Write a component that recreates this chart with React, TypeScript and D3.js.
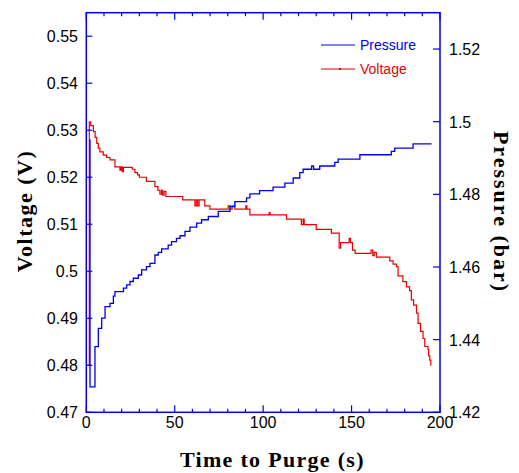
import React from 'react';
import * as d3 from 'd3';

const pressureTime = [1.8, 2.1, 4.9, 6.8, 8.7, 10.6, 13.4, 15.3, 16.2, 21, 22.8, 24.7, 26.6, 29.4, 31.3, 34, 36, 38.8, 40.7, 42.6, 46.3, 48.2, 51, 53, 55.8, 58.6, 62.4, 65.2, 69, 74.6, 81.2, 84, 90.6, 92.5, 98, 105.6, 112.3, 117, 120.7, 122.6, 127.4, 128.5, 132, 140.5, 142.4, 154.7, 172.5, 174.4, 184.8, 195.2];
const pressureValue = [1.495, 1.427, 1.4381, 1.4431, 1.4459, 1.4491, 1.45, 1.452, 1.4532, 1.4542, 1.4551, 1.456, 1.4569, 1.4578, 1.4592, 1.4601, 1.461, 1.4633, 1.464, 1.465, 1.466, 1.467, 1.4679, 1.4686, 1.4698, 1.471, 1.4721, 1.473, 1.4739, 1.4753, 1.4766, 1.478, 1.479, 1.4801, 1.481, 1.482, 1.4831, 1.4845, 1.486, 1.4869, 1.4878, 1.4869, 1.4878, 1.4888, 1.4897, 1.4909, 1.4918, 1.4927, 1.4939, 1.4939];

const voltageTime = [0, 1.7, 2.5, 4, 5, 5.9, 6.8, 7.7, 9.6, 11.5, 13.4, 16.2, 19, 19.7, 20.3, 21, 26, 27.5, 29, 30, 34, 38.8, 40.5, 41.6, 42.5, 43.2, 44, 45, 54.5, 61.4, 62.2, 63, 63.8, 67, 69.9, 80.2, 81.5, 82.5, 84, 90.2, 90.8, 92.5, 103.4, 103.9, 113.2, 121.6, 122.6, 123.2, 130, 138.6, 143, 143.8, 148.6, 149.4, 150.5, 152, 161, 162, 162.8, 164, 171.6, 173.5, 175.4, 176.3, 179, 181, 182.8, 183.8, 185.1, 186.7, 187.6, 189, 190.4, 191.4, 193.2, 193.6, 194.2, 194.8];
const voltageValue = [0.48, 0.5318, 0.531, 0.5297, 0.5285, 0.5272, 0.5262, 0.5254, 0.5247, 0.5242, 0.5237, 0.5222, 0.5215, 0.5222, 0.5212, 0.5221, 0.5217, 0.521, 0.5205, 0.52, 0.5191, 0.518, 0.5172, 0.5164, 0.5172, 0.5162, 0.517, 0.5159, 0.5152, 0.5139, 0.5152, 0.5139, 0.5152, 0.5139, 0.5132, 0.5139, 0.5132, 0.5139, 0.5132, 0.5139, 0.5132, 0.512, 0.5125, 0.512, 0.5111, 0.5099, 0.5111, 0.5099, 0.5089, 0.5081, 0.5049, 0.5061, 0.507, 0.5061, 0.5045, 0.5038, 0.5045, 0.5033, 0.504, 0.503, 0.5022, 0.5015, 0.501, 0.499, 0.4978, 0.4967, 0.4959, 0.4939, 0.4928, 0.4911, 0.4889, 0.4872, 0.4857, 0.484, 0.4833, 0.482, 0.4811, 0.4799];

const timeTicks = [0, 50, 100, 150, 200];
const timeMinorTicks = [10, 20, 30, 40, 60, 70, 80, 90, 110, 120, 130, 140, 160, 170, 180, 190];
const voltageTicks = [0.47, 0.48, 0.49, 0.5, 0.51, 0.52, 0.53, 0.54, 0.55];
const pressureTicks = [1.42, 1.44, 1.46, 1.48, 1.5, 1.52];
const seriesNames = ['Pressure', 'Voltage'];

export default function App() {
  const W = 519, H = 473;
  const left = 86.3, right = 440, top = 12.7, bottom = 412.3;
  const x = d3.scaleLinear().domain([0, 200]).range([left, right]);
  const yV = d3.scaleLinear().domain([0.47, 0.555]).range([bottom, top]);
  const yP = d3.scaleLinear().domain([1.42, 1.53]).range([bottom, top]);
  const blue = '#0000ee';
  const red = '#e60000';

  const pLine = d3.line<number>().x((_, i) => x(pressureTime[i])).y((d) => yP(d)).curve(d3.curveStepAfter);
  const vLine = d3.line<number>().x((_, i) => x(voltageTime[i])).y((d) => yV(d)).curve(d3.curveStepAfter);
  const fmt = (v: number) => String(+v.toFixed(2));
  const sans = '"Liberation Sans", Arial, sans-serif';
  const serif = '"Liberation Serif", "Times New Roman", serif';

  return (
    <svg width={W} height={H} style={{ position: 'absolute', left: 0, top: 0, background: '#fff' }}>
      <rect x={0} y={0} width={W} height={H} fill="#fff" />
      <path d={vLine(voltageValue) || ''} fill="none" stroke={red} strokeWidth={1.2} />
      <path d={pLine(pressureValue) || ''} fill="none" stroke={blue} strokeWidth={1.3} />
      <rect x={left} y={top} width={right - left} height={bottom - top} fill="none" stroke={blue} strokeWidth={1.5} />
      {timeTicks.map((t) => (
        <g key={'tx' + t}>
          <line x1={x(t)} x2={x(t)} y1={bottom} y2={bottom - 7} stroke={blue} strokeWidth={1.2} />
          <line x1={x(t)} x2={x(t)} y1={top} y2={top + 7} stroke={blue} strokeWidth={1.2} />
          <text x={x(t)} y={428} textAnchor="middle" fontFamily={sans} fontSize={16} fill="#000">{t}</text>
        </g>
      ))}
      {timeMinorTicks.map((t) => (
        <g key={'tm' + t}>
          <line x1={x(t)} x2={x(t)} y1={bottom} y2={bottom - 3.5} stroke={blue} strokeWidth={1.2} />
          <line x1={x(t)} x2={x(t)} y1={top} y2={top + 3.5} stroke={blue} strokeWidth={1.2} />
        </g>
      ))}
      {voltageTicks.map((v) => (
        <g key={'v' + v}>
          <line x1={left} x2={left + 6} y1={yV(v)} y2={yV(v)} stroke={blue} strokeWidth={1.2} />
          <text x={78} y={yV(v) + 6} textAnchor="end" fontFamily={sans} fontSize={16} fill="#000">{fmt(v)}</text>
        </g>
      ))}
      {pressureTicks.map((p) => (
        <g key={'p' + p}>
          <line x1={right - 7} x2={right} y1={yP(p)} y2={yP(p)} stroke={blue} strokeWidth={1.2} />
          <text x={449} y={yP(p) + 6} textAnchor="start" fontFamily={sans} fontSize={16} fill="#000">{fmt(p)}</text>
        </g>
      ))}
      <text x={180} y={467} textAnchor="start" fontFamily={serif} fontWeight="bold" fontSize={22} letterSpacing={1.3} fill="#000">Time to Purge (s)</text>
      <text transform="translate(32,211) rotate(-90)" textAnchor="middle" fontFamily={serif} fontWeight="bold" fontSize={22} letterSpacing={1.5} fill="#000">Voltage (V)</text>
      <text transform="translate(494,212) rotate(90)" textAnchor="middle" fontFamily={serif} fontWeight="bold" fontSize={22} letterSpacing={2} fill="#000">Pressure (bar)</text>
      <line x1={321} x2={355} y1={45} y2={45} stroke={blue} strokeWidth={1.2} />
      <text x={360} y={50} fontFamily={sans} fontSize={14} fill={blue}>{seriesNames[0]}</text>
      <line x1={321} x2={355} y1={69} y2={69} stroke={red} strokeWidth={1.2} />
      <rect x={339} y={68} width={2} height={2} fill={red} />
      <text x={360} y={74} fontFamily={sans} fontSize={14} fill={red}>{seriesNames[1]}</text>
    </svg>
  );
}
